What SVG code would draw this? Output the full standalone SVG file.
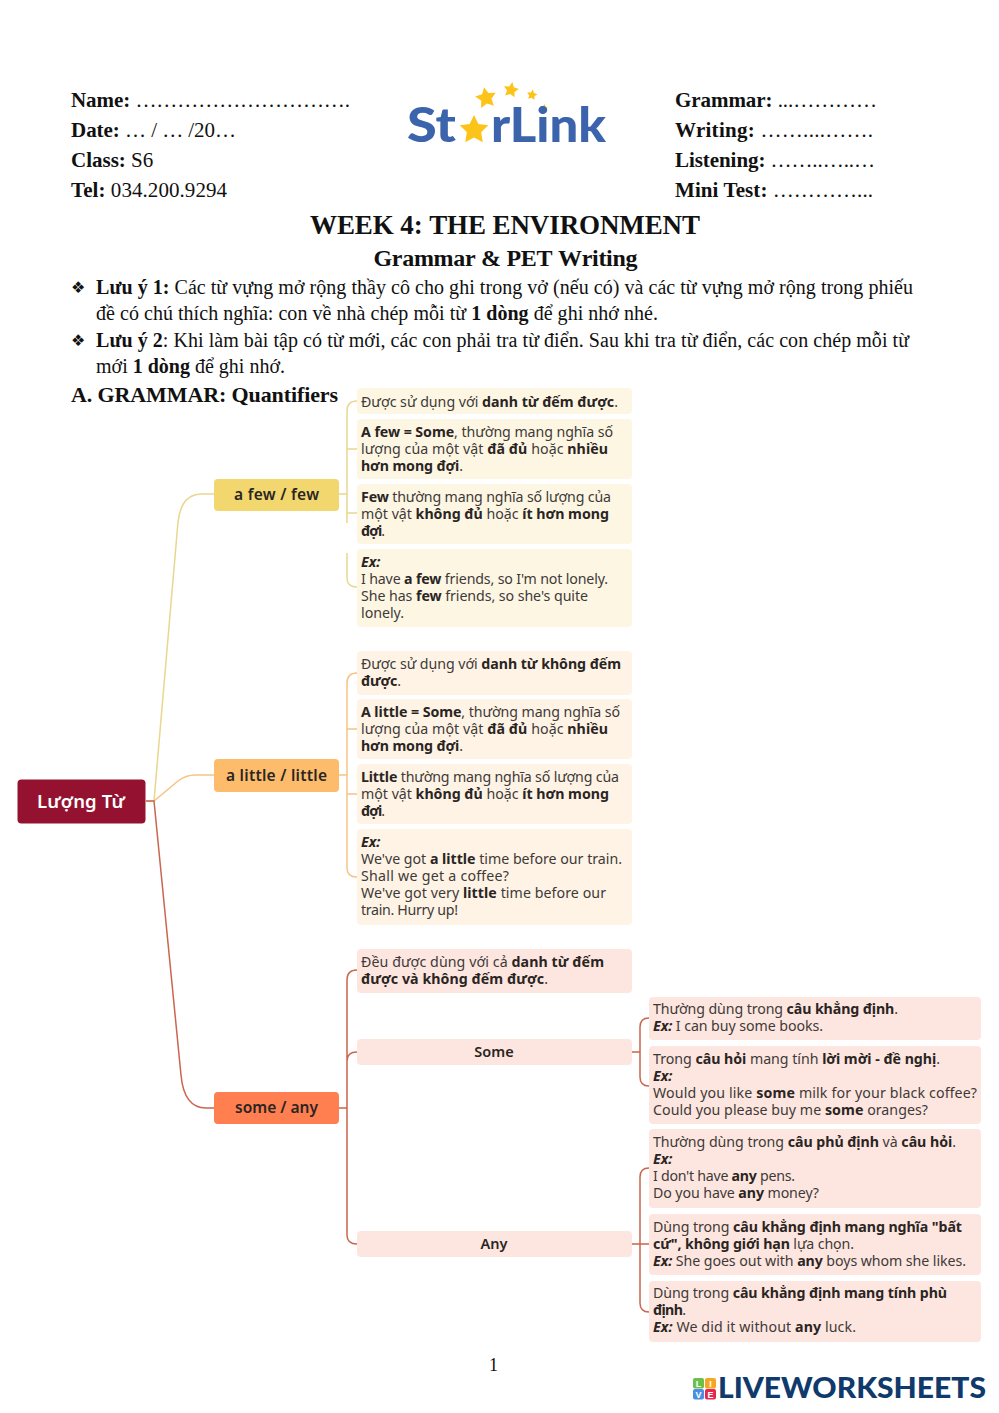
<svg xmlns="http://www.w3.org/2000/svg" width="999" height="1413" viewBox="0 0 999 1413">
<style>
text{white-space:pre}
.s{font-family:"Liberation Serif","Times New Roman",serif;fill:#111}
.h{font-size:21px}
.n{font-size:20px}
.m{font-family:"Noto Sans",sans-serif;font-size:14.2px;fill:#3d3a38}
.m .b{font-weight:700;fill:#2a2523}
.m .i{font-weight:700;font-style:italic;fill:#2a2523}
.t{font-family:"Noto Sans",sans-serif;font-weight:600;font-size:15.5px;fill:#2a2523;text-anchor:middle}
.t2{font-size:14.5px}
.c{fill:none;stroke-width:1.5}
.y{stroke:#e9d68f}.o{stroke:#f6c384}.r{stroke:#c9664e}
.fb{fill:#fdf6e3}.lb{fill:#fef3e5}.sb{fill:#fde6df}
</style>
<defs>
<polygon id="star" points="0,-1 .29,-.4 .951,-.309 .476,.155 .588,.809 0,.5 -.588,.809 -.476,.155 -.951,-.309 -.29,-.4" fill="#fcc419"/>
</defs>
<rect width="999" height="1413" fill="#fff"/>

<g id="header" class="s h">
<text x="71" y="107" textLength="279"><tspan font-weight="700">Name:</tspan> ………………………….</text>
<text x="71" y="137" textLength="165"><tspan font-weight="700">Date:</tspan> … / … /20…</text>
<text x="71" y="167"><tspan font-weight="700">Class:</tspan> S6</text>
<text x="71" y="197" textLength="156"><tspan font-weight="700">Tel:</tspan> 034.200.9294</text>
<text x="675" y="107" textLength="202"><tspan font-weight="700">Grammar:</tspan> ...…………</text>
<text x="675" y="137" textLength="198"><tspan font-weight="700">Writing:</tspan> ……....…….</text>
<text x="675" y="167" textLength="200"><tspan font-weight="700">Listening:</tspan> ……..…..…</text>
<text x="675" y="197" textLength="198"><tspan font-weight="700">Mini Test:</tspan> …………...</text>
</g>

<g id="logo">
<use href="#star" transform="translate(486 98) rotate(-10) scale(11)"/>
<use href="#star" transform="translate(511 90) rotate(10) scale(8)"/>
<use href="#star" transform="translate(532 95) rotate(10) scale(5.500)"/>
<use href="#star" transform="translate(544 108) rotate(10) scale(4)"/>
<use href="#star" transform="translate(474 130) scale(15)"/>
<text x="407" y="142" textLength="49" lengthAdjust="spacingAndGlyphs" font-family="Lato,'Noto Sans',sans-serif" font-weight="900" font-size="47" fill="#3b64ad">St</text>
<text x="491" y="142" textLength="115" lengthAdjust="spacingAndGlyphs" font-family="Lato,'Noto Sans',sans-serif" font-weight="900" font-size="47" fill="#3b64ad">rLink</text>
</g>

<g id="titles" class="s" font-weight="700" text-anchor="middle">
<text x="505" y="234" font-size="27" style="font-kerning:none" textLength="390">WEEK 4: THE ENVIRONMENT</text>
<text x="505.500" y="266" font-size="24" style="font-kerning:none" textLength="264">Grammar &amp; PET Writing</text>
</g>

<g id="notes" class="s n" style="font-kerning:none">
<text x="71" y="293" font-family="'DejaVu Sans',sans-serif" font-size="16">❖</text>
<text x="96" y="294" textLength="817"><tspan font-weight="700">Lưu ý 1:</tspan> Các từ vựng mở rộng thầy cô cho ghi trong vở (nếu có) và các từ vựng mở rộng trong phiếu</text>
<text x="96" y="320" textLength="562">đề có chú thích nghĩa: con về nhà chép mỗi từ <tspan font-weight="700">1 dòng</tspan> để ghi nhớ nhé.</text>
<text x="71" y="346" font-family="'DejaVu Sans',sans-serif" font-size="16">❖</text>
<text x="96" y="347" textLength="813"><tspan font-weight="700">Lưu ý 2</tspan>: Khi làm bài tập có từ mới, các con phải tra từ điển. Sau khi tra từ điển, các con chép mỗi từ</text>
<text x="96" y="373" textLength="189">mới <tspan font-weight="700">1 dòng</tspan> để ghi nhớ.</text>
<text x="71" y="402" font-size="22" font-weight="700" textLength="267">A. GRAMMAR: Quantifiers</text>
</g>

<g id="connectors">
<path class="c y" d="M146 801H154L178 522Q181 494 202 494H214"/>
<path class="c y" d="M339 494H347M357 401Q347 401 347 411V523M347 449H357M347 513H357M347 553V578Q347 587 357 587"/>
<path class="c o" d="M154 801L178 781Q186 775 195 775H214"/>
<path class="c o" d="M339 775H347M357 673Q347 673 347 683V868Q347 877 357 877M347 729H357M347 794H357"/>
<path class="c r" d="M146 801H154L181 1075Q184 1108 206 1108H214"/>
<path class="c r" d="M339 1108H347M357 970Q347 970 347 980V1235Q347 1244 357 1244M347 1061Q347 1052 357 1052"/>
<path class="c r" d="M632 1052H640M649 1018Q640 1018 640 1027V1077Q640 1086 649 1086"/>
<path class="c r" d="M632 1244H649M649 1168Q640 1168 640 1177V1303Q640 1312 649 1312"/>
</g>

<g id="root"><rect x="17.500" y="779.500" width="128" height="44" rx="4" fill="#941230"/><text x="81" y="808" font-family="'Noto Sans',sans-serif" font-size="18.500" font-weight="600" fill="#fff" text-anchor="middle" textLength="88">Lượng Từ</text></g>

<g id="node-few"><rect x="214" y="479" width="125" height="32" rx="4" fill="#f2d66e"/><text class="t" x="276.500" y="500" textLength="85">a few / few</text></g>
<g id="node-little"><rect x="214" y="759" width="125" height="33" rx="4" fill="#fdbc6c"/><text class="t" x="276.500" y="781" textLength="101">a little / little</text></g>
<g id="node-some-any"><rect x="214" y="1092" width="125" height="32" rx="4" fill="#ff7f50"/><text class="t" x="276.500" y="1113" textLength="83">some / any</text></g>

<g id="few-1"><rect class="fb" x="357" y="388" width="275" height="26" rx="4"/>
<text class="m" x="361" y="407" textLength="257">Được sử dụng với <tspan class="b">danh từ đếm được</tspan>.</text></g>
<g id="few-2"><rect class="fb" x="357" y="419" width="275" height="60" rx="4"/>
<text class="m" x="361" y="437" textLength="252"><tspan class="b">A few = Some</tspan>, thường mang nghĩa số</text>
<text class="m" x="361" y="454" textLength="247">lượng của một vật <tspan class="b">đã đủ</tspan> hoặc <tspan class="b">nhiều</tspan></text>
<text class="m" x="361" y="471" textLength="102"><tspan class="b">hơn mong đợi</tspan>.</text></g>
<g id="few-3"><rect class="fb" x="357" y="484" width="275" height="60" rx="4"/>
<text class="m" x="361" y="502" textLength="250"><tspan class="b">Few</tspan> thường mang nghĩa số lượng của</text>
<text class="m" x="361" y="519" textLength="248">một vật <tspan class="b">không đủ</tspan> hoặc <tspan class="b">ít hơn mong</tspan></text>
<text class="m" x="361" y="536" textLength="24"><tspan class="b">đợi</tspan>.</text></g>
<g id="few-4"><rect class="fb" x="357" y="549" width="275" height="78" rx="4"/>
<text class="m" x="361" y="567"><tspan class="i">Ex:</tspan></text>
<text class="m" x="361" y="584" textLength="247">I have <tspan class="b">a few</tspan> friends, so I'm not lonely.</text>
<text class="m" x="361" y="601" textLength="227">She has <tspan class="b">few</tspan> friends, so she's quite</text>
<text class="m" x="361" y="618" textLength="43">lonely.</text></g>

<g id="little-1"><rect class="lb" x="357" y="651" width="275" height="44" rx="4"/>
<text class="m" x="361" y="669" textLength="260">Được sử dụng với <tspan class="b">danh từ không đếm</tspan></text>
<text class="m" x="361" y="686" textLength="40"><tspan class="b">được</tspan>.</text></g>
<g id="little-2"><rect class="lb" x="357" y="699" width="275" height="60" rx="4"/>
<text class="m" x="361" y="717" textLength="259"><tspan class="b">A little = Some</tspan>, thường mang nghĩa số</text>
<text class="m" x="361" y="734" textLength="247">lượng của một vật <tspan class="b">đã đủ</tspan> hoặc <tspan class="b">nhiều</tspan></text>
<text class="m" x="361" y="751" textLength="102"><tspan class="b">hơn mong đợi</tspan>.</text></g>
<g id="little-3"><rect class="lb" x="357" y="764" width="275" height="60" rx="4"/>
<text class="m" x="361" y="782" textLength="258"><tspan class="b">Little</tspan> thường mang nghĩa số lượng của</text>
<text class="m" x="361" y="799" textLength="248">một vật <tspan class="b">không đủ</tspan> hoặc <tspan class="b">ít hơn mong</tspan></text>
<text class="m" x="361" y="816" textLength="24"><tspan class="b">đợi</tspan>.</text></g>
<g id="little-4"><rect class="lb" x="357" y="829" width="275" height="96" rx="4"/>
<text class="m" x="361" y="847"><tspan class="i">Ex:</tspan></text>
<text class="m" x="361" y="864" textLength="261">We've got <tspan class="b">a little</tspan> time before our train.</text>
<text class="m" x="361" y="881" textLength="148">Shall we get a coffee?</text>
<text class="m" x="361" y="898" textLength="245">We've got very <tspan class="b">little</tspan> time before our</text>
<text class="m" x="361" y="915" textLength="97">train. Hurry up!</text></g>

<g id="some-1"><rect class="sb" x="357" y="949" width="275" height="44" rx="4"/>
<text class="m" x="361" y="967" textLength="243">Đều được dùng với cả <tspan class="b">danh từ đếm</tspan></text>
<text class="m" x="361" y="984" textLength="187"><tspan class="b">được và không đếm được</tspan>.</text></g>
<g id="node-some"><rect class="sb" x="357" y="1039" width="275" height="26" rx="4"/><text class="t t2" x="494" y="1057">Some</text></g>
<g id="node-any"><rect class="sb" x="357" y="1231" width="275" height="26" rx="4"/><text class="t t2" x="494" y="1249">Any</text></g>

<g id="some-a"><rect class="sb" x="649" y="997" width="332" height="43" rx="4"/>
<text class="m" x="653" y="1014" textLength="245">Thường dùng trong <tspan class="b">câu khẳng định</tspan>.</text>
<text class="m" x="653" y="1031" textLength="170"><tspan class="i">Ex:</tspan> I can buy some books.</text></g>
<g id="some-b"><rect class="sb" x="649" y="1046" width="332" height="78" rx="4"/>
<text class="m" x="653" y="1064" textLength="287">Trong <tspan class="b">câu hỏi</tspan> mang tính <tspan class="b">lời mời - đề nghị</tspan>.</text>
<text class="m" x="653" y="1081"><tspan class="i">Ex:</tspan></text>
<text class="m" x="653" y="1098" textLength="324">Would you like <tspan class="b">some</tspan> milk for your black coffee?</text>
<text class="m" x="653" y="1115" textLength="275">Could you please buy me <tspan class="b">some</tspan> oranges?</text></g>
<g id="any-a"><rect class="sb" x="649" y="1129" width="332" height="79" rx="4"/>
<text class="m" x="653" y="1147" textLength="303">Thường dùng trong <tspan class="b">câu phủ định</tspan> và <tspan class="b">câu hỏi</tspan>.</text>
<text class="m" x="653" y="1164"><tspan class="i">Ex:</tspan></text>
<text class="m" x="653" y="1181" textLength="142">I don't have <tspan class="b">any</tspan> pens.</text>
<text class="m" x="653" y="1198" textLength="166">Do you have <tspan class="b">any</tspan> money?</text></g>
<g id="any-b"><rect class="sb" x="649" y="1214" width="332" height="61" rx="4"/>
<text class="m" x="653" y="1232" textLength="309">Dùng trong <tspan class="b">câu khẳng định mang nghĩa "bất</tspan></text>
<text class="m" x="653" y="1249" textLength="201"><tspan class="b">cứ", không giới hạn</tspan> lựa chọn.</text>
<text class="m" x="653" y="1266" textLength="313"><tspan class="i">Ex:</tspan> She goes out with <tspan class="b">any</tspan> boys whom she likes.</text></g>
<g id="any-c"><rect class="sb" x="649" y="1281" width="332" height="61" rx="4"/>
<text class="m" x="653" y="1298" textLength="294">Dùng trong <tspan class="b">câu khẳng định mang tính phù</tspan></text>
<text class="m" x="653" y="1315" textLength="33"><tspan class="b">định</tspan>.</text>
<text class="m" x="653" y="1332" textLength="203"><tspan class="i">Ex:</tspan> We did it without <tspan class="b">any</tspan> luck.</text></g>

<text id="page" class="s" x="489" y="1371" font-size="18">1</text>

<g id="liveworksheets">
<rect x="693" y="1378" width="11" height="10.500" rx="2" fill="#6cbf4b"/>
<rect x="705" y="1378" width="11" height="10.500" rx="2" fill="#f5a623"/>
<rect x="693" y="1389" width="11" height="10.500" rx="2" fill="#4a8fe0"/>
<rect x="705" y="1389" width="11" height="10.500" rx="2" fill="#e5264f"/>
<g font-family="'Liberation Sans',sans-serif" font-size="9" font-weight="700" fill="#fff" text-anchor="middle">
<text x="698.500" y="1386.500">L</text><text x="710.500" y="1386.500">I</text><text x="698.500" y="1397.500">V</text><text x="710.500" y="1397.500">E</text></g>
<text x="718" y="1398" font-family="Lato,'Noto Sans',sans-serif" font-size="28" font-weight="900" fill="#0f3a6b" textLength="268" lengthAdjust="spacingAndGlyphs">LIVEWORKSHEETS</text>
</g>
</svg>
